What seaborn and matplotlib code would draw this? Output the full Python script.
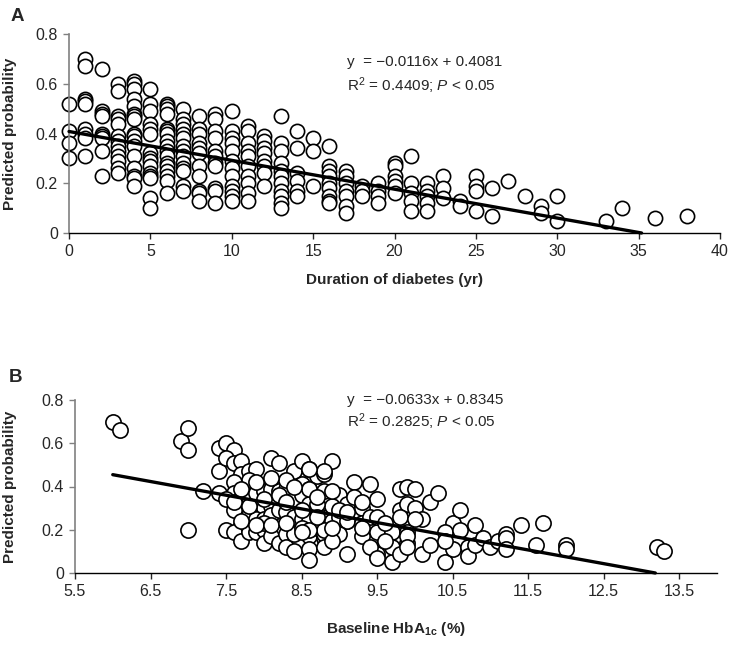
import numpy as np
import pandas as pd
import matplotlib
matplotlib.use("Agg")
import matplotlib.pyplot as plt
import seaborn as sns

# ---- panel A: duration of diabetes (yr) vs predicted probability ----
a_duration = [0, 1, 2, 3, 4, 5, 6, 7, 8, 9, 10, 11, 12, 13, 14, 15, 16, 17, 18, 19,
              20, 21, 22, 23, 24, 25, 26, 27, 28, 29, 30, 33, 34, 36, 38]
a_prob = [
    [0.52, 0.41, 0.36, 0.30],
    [0.70, 0.67, 0.54, 0.53, 0.52, 0.42, 0.40, 0.38, 0.31],
    [0.66, 0.49, 0.48, 0.47, 0.40, 0.39, 0.38, 0.33, 0.23],
    [0.60, 0.57, 0.47, 0.46, 0.44, 0.39, 0.37, 0.35, 0.33, 0.31, 0.29, 0.26, 0.24],
    [0.61, 0.60, 0.58, 0.54, 0.51, 0.48, 0.47, 0.46, 0.40, 0.39, 0.37, 0.35, 0.31, 0.26, 0.23, 0.22, 0.19],
    [0.58, 0.52, 0.49, 0.44, 0.42, 0.40, 0.32, 0.30, 0.29, 0.27, 0.24, 0.23, 0.22, 0.14, 0.10],
    [0.52, 0.51, 0.50, 0.48, 0.42, 0.41, 0.40, 0.37, 0.35, 0.33, 0.31, 0.28, 0.27, 0.25, 0.23, 0.21, 0.16],
    [0.50, 0.46, 0.44, 0.42, 0.40, 0.38, 0.35, 0.33, 0.31, 0.28, 0.26, 0.25, 0.19, 0.17],
    [0.47, 0.42, 0.40, 0.36, 0.34, 0.32, 0.27, 0.23, 0.17, 0.16, 0.13],
    [0.48, 0.46, 0.41, 0.38, 0.33, 0.31, 0.28, 0.27, 0.18, 0.17, 0.12],
    [0.49, 0.41, 0.38, 0.36, 0.33, 0.29, 0.26, 0.23, 0.19, 0.17, 0.15, 0.13],
    [0.43, 0.41, 0.36, 0.33, 0.31, 0.27, 0.23, 0.20, 0.16, 0.13],
    [0.39, 0.37, 0.34, 0.32, 0.29, 0.27, 0.24, 0.19],
    [0.47, 0.36, 0.33, 0.28, 0.25, 0.23, 0.20, 0.17, 0.15, 0.12, 0.10],
    [0.41, 0.34, 0.24, 0.21, 0.17, 0.15],
    [0.38, 0.33, 0.19],
    [0.35, 0.27, 0.25, 0.23, 0.20, 0.18, 0.15, 0.13, 0.12],
    [0.25, 0.23, 0.20, 0.17, 0.15, 0.11, 0.08],
    [0.19, 0.17, 0.15],
    [0.20, 0.17, 0.15, 0.12],
    [0.28, 0.27, 0.23, 0.21, 0.19, 0.16],
    [0.31, 0.20, 0.16, 0.13, 0.09],
    [0.20, 0.17, 0.15, 0.12, 0.09],
    [0.23, 0.18, 0.14],
    [0.13, 0.11],
    [0.23, 0.19, 0.17, 0.09],
    [0.18, 0.07],
    [0.21],
    [0.15],
    [0.11, 0.08],
    [0.15, 0.05],
    [0.05],
    [0.10],
    [0.06],
    [0.07],
]
a_slope, a_intercept = -0.0116, 0.4081

# ---- panel B: baseline HbA1c (%) vs predicted probability ----
b_hba1c = [
    6.0, 6.1, 6.9, 7.0, 7.0, 7.0, 7.2,
    7.4, 7.5, 7.6, 7.4, 7.5, 7.6, 7.7, 7.7, 7.8, 7.9, 7.8, 7.6, 7.4, 7.6, 7.5, 7.7, 7.8, 7.9,
    8.0, 8.0, 8.1, 8.2, 8.1, 8.2, 8.3, 8.4, 8.5, 8.6, 8.3, 8.5, 8.6, 8.7, 8.4, 8.5, 8.6, 8.2, 8.1,
    7.7, 7.6, 7.7, 7.8, 7.9, 8.0, 8.1, 8.2, 8.3, 8.4, 8.5, 8.6,
    7.5, 7.6, 7.7, 7.8, 7.9, 8.0, 8.0, 8.1, 8.2, 8.3, 8.3, 8.4, 8.4, 8.5, 8.6, 8.6, 8.6, 8.7,
    8.0, 8.7, 8.8, 8.8, 8.8, 9.1, 9.4, 8.8,
    8.9, 8.8, 8.6, 8.6, 8.8, 9.0, 9.2, 9.4, 9.5, 9.3, 9.1, 8.9, 8.7, 8.9, 9.0, 9.1, 9.3, 9.4,
    9.5, 9.0, 8.8, 8.6, 8.8, 8.9, 9.1, 9.3, 9.5, 9.7, 9.7,
    9.8, 9.9, 10.0, 9.8, 9.9, 10.0, 9.8, 9.9, 10.1, 10.2, 10.3, 9.9, 10.1, 10.4, 10.5, 10.4, 10.5,
    9.5, 9.4, 9.7, 9.8, 9.9, 9.9, 10.0, 10.2, 10.4, 10.6, 10.6, 10.7, 10.7, 10.8, 10.8, 10.9,
    11.0, 11.1, 11.2, 11.2, 11.2, 11.4, 11.6, 11.7, 12.0, 12.0, 13.2, 13.3, 9.5,
    7.6, 7.7, 7.8, 7.9, 8.0, 8.1, 8.2, 8.3, 8.4, 8.5, 8.7, 8.9, 9.0, 9.2, 9.3,
    7.7, 7.9, 8.1, 8.3, 8.5, 8.7, 8.9, 9.1, 9.3, 9.6, 9.6,
]
b_prob = [
    0.70, 0.66, 0.61, 0.67, 0.57, 0.20, 0.38,
    0.58, 0.60, 0.57, 0.47, 0.53, 0.51, 0.52, 0.46, 0.47, 0.48, 0.43, 0.42, 0.37, 0.37, 0.34, 0.31, 0.35, 0.37,
    0.38, 0.30, 0.53, 0.51, 0.39, 0.38, 0.39, 0.47, 0.52, 0.48, 0.43, 0.41, 0.39, 0.45, 0.34, 0.36, 0.32, 0.33, 0.31,
    0.27, 0.29, 0.22, 0.27, 0.25, 0.25, 0.27, 0.29, 0.28, 0.26, 0.25, 0.24,
    0.20, 0.19, 0.15, 0.19, 0.19, 0.20, 0.14, 0.17, 0.14, 0.18, 0.12, 0.18, 0.10, 0.21, 0.17, 0.11, 0.06, 0.21,
    0.23, 0.30, 0.33, 0.16, 0.46, 0.24, 0.16, 0.18,
    0.52, 0.47, 0.48, 0.39, 0.38, 0.36, 0.42, 0.41, 0.34, 0.30, 0.32, 0.31, 0.32, 0.24, 0.26, 0.24, 0.23, 0.26,
    0.19, 0.18, 0.20, 0.20, 0.12, 0.15, 0.09, 0.17, 0.09, 0.05, 0.19,
    0.39, 0.40, 0.39, 0.29, 0.32, 0.30, 0.26, 0.19, 0.25, 0.33, 0.37, 0.14, 0.09, 0.05, 0.23, 0.19, 0.11,
    0.26, 0.12, 0.12, 0.09, 0.17, 0.12, 0.25, 0.13, 0.15, 0.29, 0.20, 0.12, 0.08, 0.22, 0.13, 0.16,
    0.12, 0.15, 0.18, 0.16, 0.11, 0.22, 0.13, 0.23, 0.13, 0.11, 0.12, 0.10, 0.07,
    0.33, 0.39, 0.31, 0.42, 0.34, 0.44, 0.36, 0.33, 0.40, 0.29, 0.35, 0.38, 0.29, 0.35, 0.33,
    0.24, 0.22, 0.22, 0.23, 0.19, 0.26, 0.21, 0.28, 0.21, 0.23, 0.15,
]
b_slope, b_intercept = -0.0633, 0.8345

df_a = pd.DataFrame({
    "duration": [d for d, ys in zip(a_duration, a_prob) for _ in ys],
    "prob": [y for ys in a_prob for y in ys],
})
df_b = pd.DataFrame({"hba1c": b_hba1c, "prob": b_prob})

sns.set_style("ticks")
plt.rcParams["font.family"] = ["Liberation Sans", "DejaVu Sans"]
plt.rcParams["mathtext.fontset"] = "custom"
plt.rcParams["mathtext.rm"] = "Liberation Sans"
plt.rcParams["mathtext.it"] = "Liberation Sans:italic"
plt.rcParams["mathtext.bf"] = "Liberation Sans:bold"

fig = plt.figure(figsize=(7.39, 6.45), dpi=100)
ax_a = fig.add_axes([69 / 739, 1 - 233 / 645, 651 / 739, 199 / 645])
ax_b = fig.add_axes([75 / 739, 1 - 573 / 645, 642 / 739, 173 / 645])


def style_axis(ax):
    sns.despine(ax=ax)
    ax.spines["left"].set_color("#808080")
    ax.spines["left"].set_linewidth(1.2)
    ax.spines["bottom"].set_color("black")
    ax.spines["bottom"].set_linewidth(1.0)
    ax.tick_params(axis="both", labelsize=11.5, length=4, width=1, direction="out", pad=4)
    ax.tick_params(axis="y", color="#808080")
    ax.set_ylim(0, 0.8)
    ax.set_yticks([0, 0.2, 0.4, 0.6, 0.8])
    ax.set_yticklabels(["0", "0.2", "0.4", "0.6", "0.8"])
    ax.set_ylabel("Predicted probability", fontsize=11, fontweight="bold")


# panel A
sns.scatterplot(data=df_a, x="duration", y="prob", ax=ax_a, s=105, color="white",
                edgecolor="black", linewidth=1.2, clip_on=False, zorder=2, legend=False)
a_line_x = np.array([0, -a_intercept / a_slope])
sns.lineplot(x=a_line_x, y=a_slope * a_line_x + a_intercept, ax=ax_a, color="black",
             linewidth=2.4, zorder=3, clip_on=False)
style_axis(ax_a)
ax_a.set_xlim(0, 40)
ax_a.set_xticks(range(0, 41, 5))
ax_a.set_xlabel("Duration of diabetes (yr)", fontsize=11, fontweight="bold")
ax_a.xaxis.set_label_coords(0.5, -0.2)
ax_a.yaxis.set_label_coords(-0.08, 0.5)
ax_a.text(0.427, 0.86, "y  = \u22120.0116x + 0.4081", transform=ax_a.transAxes,
          fontsize=11, va="center")
ax_a.text(0.427, 0.74, "R$^2$ = 0.4409; $P$ < 0.05", transform=ax_a.transAxes,
          fontsize=11, va="center")

# panel B
sns.scatterplot(data=df_b, x="hba1c", y="prob", ax=ax_b, s=120, color="white",
                edgecolor="black", linewidth=1.2, clip_on=False, zorder=2, legend=False)
b_line_x = np.array([min(b_hba1c), -b_intercept / b_slope])
sns.lineplot(x=b_line_x, y=b_slope * b_line_x + b_intercept, ax=ax_b, color="black",
             linewidth=2.4, zorder=3, clip_on=False)
style_axis(ax_b)
ax_b.set_xlim(5.5, 14.0)
ax_b.set_xticks(np.arange(5.5, 14.0, 1.0))
ax_b.set_xticklabels([f"{v:.1f}" for v in np.arange(5.5, 14.0, 1.0)])
ax_b.set_xlabel("Baseline HbA$_{\\mathbf{1c}}$ (%)", fontsize=11, fontweight="bold")
ax_b.xaxis.set_label_coords(0.5, -0.27)
ax_b.yaxis.set_label_coords(-0.09, 0.5)
ax_b.text(0.424, 1.0, "y  = \u22120.0633x + 0.8345", transform=ax_b.transAxes,
          fontsize=11, va="center")
ax_b.text(0.424, 0.873, "R$^2$ = 0.2825; $P$ < 0.05", transform=ax_b.transAxes,
          fontsize=11, va="center")

fig.text(0.024, 0.974, "A", fontsize=13.5, fontweight="bold", va="center", ha="center")
fig.text(0.021, 0.414, "B", fontsize=13.5, fontweight="bold", va="center", ha="center")

fig.savefig("out.png", dpi=100, facecolor="white")
